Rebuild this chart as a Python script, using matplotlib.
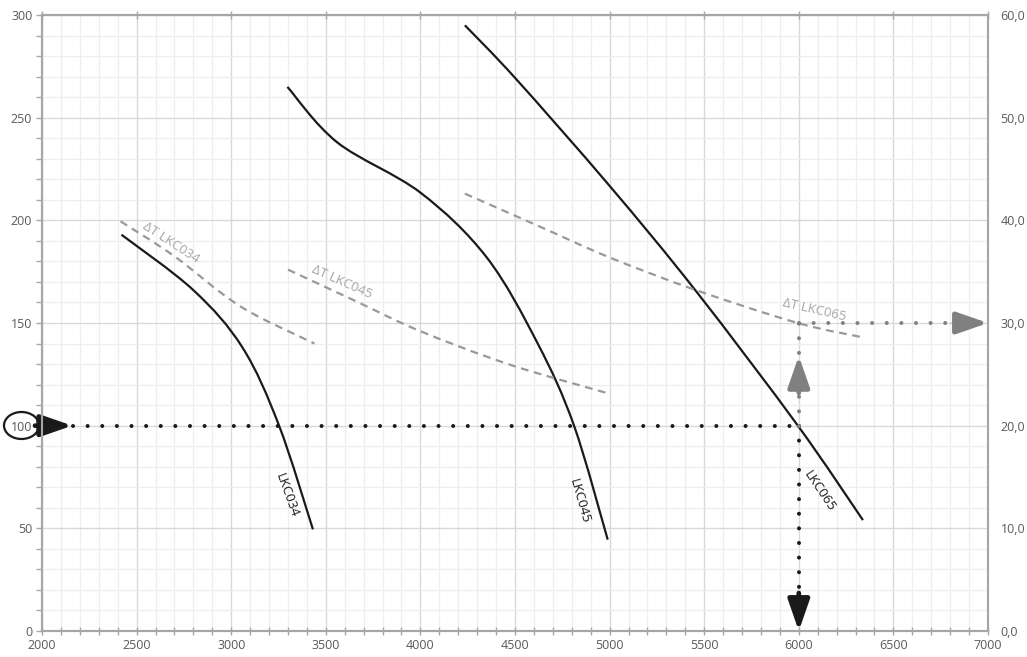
import numpy as np
import matplotlib
matplotlib.use("Agg")
import matplotlib.pyplot as plt
from matplotlib.patches import Ellipse, PathPatch
from matplotlib.path import Path
from matplotlib.ticker import MultipleLocator, FuncFormatter

plt.rcParams['font.family'] = ['Open Sans', 'DejaVu Sans']

# fan curves: airflow vs. available pressure
lkc034_q = [2420, 2800, 3060, 3253, 3432]
lkc034_p = [193, 166, 138, 100, 49.5]

lkc045_q = [3297, 3560, 4000, 4350, 4620, 4812, 4990]
lkc045_p = [265, 238, 213.5, 182, 140, 100, 44.5]

lkc065_q = [4235, 4504, 4998, 5457, 5995, 6339]
lkc065_p = [295, 269, 217, 165.5, 100, 54]

# temperature rise (right axis)
dt034_q = [2415, 2700, 3050, 3440]
dt034_t = [39.9, 36.5, 31.6, 28.0]

dt045_q = [3300, 3650, 4000, 4480, 5002]
dt045_t = [35.2, 32.2, 29.2, 25.9, 23.1]

dt065_q = [4235, 4630, 4998, 5457, 5995, 6340]
dt065_t = [42.6, 39.4, 36.4, 33.2, 30.0, 28.6]

# worked example
duty_q = 6000
duty_p = 100
duty_dt = 30.0

GRAY_TXT = '#595959'
SPINE = '#a6a6a6'
DASH = '#999999'
DOT_GRAY = '#808080'


def smooth_line(a, xs, ys, **kw):
    # smoothed line through the points (cubic bezier segments, catmull-rom handles)
    pts = a.transData.transform(np.column_stack([xs, ys]))
    verts = [pts[0]]
    codes = [Path.MOVETO]
    n = len(pts)
    for i in range(n - 1):
        p0 = pts[max(i - 1, 0)]
        p1 = pts[i]
        p2 = pts[i + 1]
        p3 = pts[min(i + 2, n - 1)]
        c1 = p1 + (p2 - p0) / 6.0
        c2 = p2 - (p3 - p1) / 6.0
        verts += [c1, c2, p2]
        codes += [Path.CURVE4] * 3
    verts = a.transData.inverted().transform(np.array(verts))
    patch = PathPatch(Path(verts, codes), fill=False, transform=a.transData,
                      capstyle='butt', **kw)
    a.add_patch(patch)
    return patch


fig = plt.figure(figsize=(10.27, 6.57), dpi=100)
ax = fig.add_axes([42/1027, 26/657, 946/1027, 616/657])
ax2 = ax.twinx()

ax.set_xlim(2000, 7000)
ax.set_ylim(0, 300)
ax2.set_ylim(0, 60)

ax.xaxis.set_major_locator(MultipleLocator(500))
ax.xaxis.set_minor_locator(MultipleLocator(100))
ax.yaxis.set_major_locator(MultipleLocator(50))
ax.yaxis.set_minor_locator(MultipleLocator(10))
ax2.yaxis.set_major_locator(MultipleLocator(10))
ax2.yaxis.set_major_formatter(FuncFormatter(lambda v, p: f"{v:.1f}".replace('.', ',')))

ax.grid(which='major', color='#d9d9d9', lw=1.0, zorder=0)
ax.grid(which='minor', color='#eeeeee', lw=0.9, zorder=0)
ax.set_axisbelow(True)

for a in (ax, ax2):
    for s in a.spines.values():
        s.set_color(SPINE)
        s.set_linewidth(1.5)

ax.tick_params(axis='y', which='both', direction='out', length=4, width=1,
               color=SPINE, labelcolor=GRAY_TXT, labelsize=9, pad=3)
ax.tick_params(axis='x', which='both', direction='inout', length=6, width=1,
               color=SPINE, labelcolor=GRAY_TXT, labelsize=9, pad=3, top=True)
ax.tick_params(axis='x', which='minor', top=False)
ax2.tick_params(axis='y', length=0, labelcolor=GRAY_TXT, labelsize=9, pad=9)

# fan curves
for q, p in [(lkc034_q, lkc034_p), (lkc045_q, lkc045_p), (lkc065_q, lkc065_p)]:
    smooth_line(ax, q, p, ec='#1a1a1a', lw=1.6, zorder=4)

# delta T curves
for q, t in [(dt034_q, dt034_t), (dt045_q, dt045_t), (dt065_q, dt065_t)]:
    smooth_line(ax2, q, t, ec=DASH, lw=1.6, ls=(0, (3.5, 2.5)), zorder=3)

ax.text(3295, 66, 'LKC034', rotation=-70, ha='center', va='center', fontsize=9.5, color='#1a1a1a')
ax.text(4840, 63, 'LKC045', rotation=-74, ha='center', va='center', fontsize=9.5, color='#1a1a1a')
ax.text(6110, 68, 'LKC065', rotation=-56, ha='center', va='center', fontsize=9.5, color='#1a1a1a')

ax2.text(2682, 37.8, '\u0394T LKC034', rotation=-33, ha='center', va='center', fontsize=9.5, color='#a6a6a6')
ax2.text(3587, 34.0, '\u0394T LKC045', rotation=-24, ha='center', va='center', fontsize=9.5, color='#a6a6a6')
ax2.text(6083, 31.3, '\u0394T LKC065', rotation=-13, ha='center', va='center', fontsize=9.5, color='#a6a6a6')

# reading path: pressure -> airflow -> delta T
dots = (0, (0.01, 3.62))
ax.plot([2165, duty_q], [duty_p, duty_p], color='#1a1a1a', lw=2.9, ls=dots,
        dash_capstyle='round', zorder=5)
ax.plot([duty_q, duty_q], [duty_p, 20], color='#1a1a1a', lw=2.9, ls=dots,
        dash_capstyle='round', zorder=5)
ax2.plot([duty_q, duty_q], [duty_p / 5, duty_dt], color=DOT_GRAY, lw=2.9, ls=dots,
         dash_capstyle='round', zorder=5)
ax2.plot([duty_q, 6800], [duty_dt, duty_dt], color=DOT_GRAY, lw=2.9, ls=dots,
         dash_capstyle='round', zorder=5)

arrow_k = dict(arrowstyle='-|>,head_length=0.95,head_width=0.33', lw=3.4,
               mutation_scale=20, shrinkA=0, shrinkB=0)
ax.annotate('', xy=(2160, duty_p), xytext=(1963, duty_p),
            arrowprops=dict(color='#1a1a1a', **arrow_k), annotation_clip=False, zorder=6)
ax.annotate('', xy=(duty_q, 0), xytext=(duty_q, 18.5),
            arrowprops=dict(color='#1a1a1a', **arrow_k), annotation_clip=False, zorder=6)
ax2.annotate('', xy=(duty_q, 26.8), xytext=(duty_q, 23.2),
             arrowprops=dict(color=DOT_GRAY, **arrow_k), annotation_clip=False, zorder=6)
ax2.annotate('', xy=(7000, duty_dt), xytext=(6820, duty_dt),
             arrowprops=dict(color=DOT_GRAY, **arrow_k), annotation_clip=False, zorder=6)

# ring round the starting pressure label
ring = Ellipse((21.5/1027, 1 - 425.5/657), 35/1027, 27/657, transform=fig.transFigure,
               fill=False, ec='#1a1a1a', lw=1.6, clip_on=False)
fig.add_artist(ring)

fig.savefig('out.png', dpi=100)
